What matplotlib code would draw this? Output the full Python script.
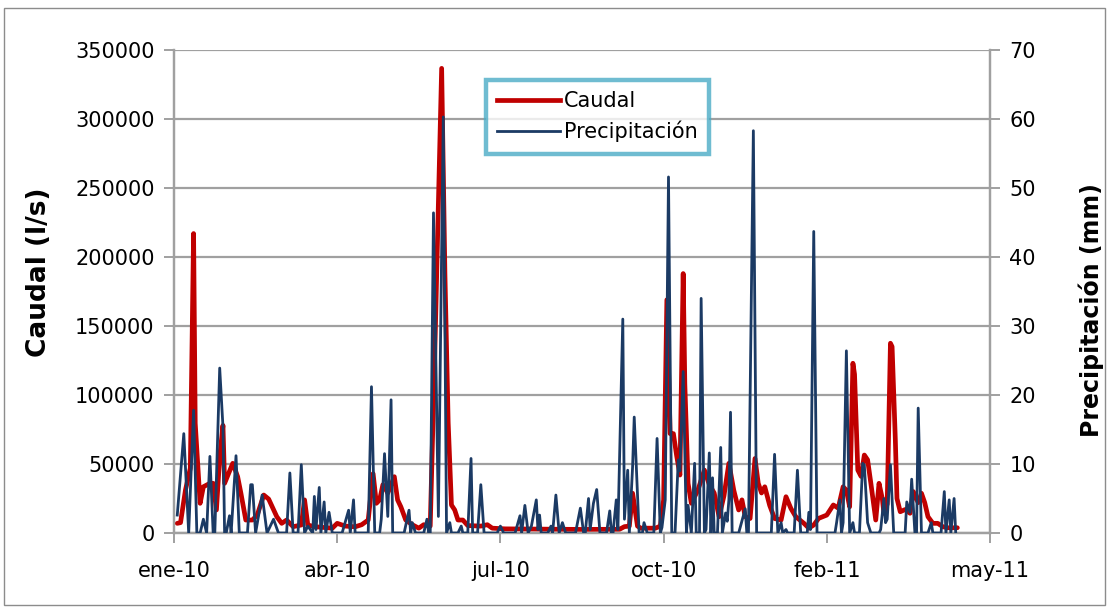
import numpy as np
import matplotlib
matplotlib.use("Agg")
import matplotlib.pyplot as plt
import matplotlib.dates as mdates
from matplotlib.ticker import FuncFormatter, MultipleLocator, FixedLocator
from matplotlib.lines import Line2D
from matplotlib.patches import Rectangle

# Daily record starting 1 Jan 2010 (day offsets)
inicio = np.datetime64("2010-01-01")

dia_caudal = [2, 4, 7, 10, 12, 13, 16, 18, 22, 24, 26, 28, 30, 31, 36, 39, 41, 44, 48, 51,
              55, 58, 63, 66, 69, 73, 78, 80, 82, 86, 92, 97, 100, 105, 111, 115, 119, 122,
              124, 126, 128, 131, 135, 137, 139, 142, 146, 150, 153, 157, 160, 164, 166, 168,
              170, 172, 174, 177, 180, 188, 192, 195, 203, 224, 249, 273, 276, 279, 281, 284,
              286, 295, 298, 300, 302, 304, 306, 308, 310, 312, 313, 315, 317, 321, 325, 328,
              331, 334, 337, 340, 343, 346, 348, 350, 353, 356, 358, 360, 362, 365, 368, 372,
              375, 378, 381, 386, 389, 392, 395, 400, 404, 407, 410, 412, 414, 416, 417, 419,
              421, 423, 425, 427, 430, 432, 434, 435, 437, 439, 440, 442, 443, 445, 448, 451,
              453, 456, 458, 460, 462, 465, 468, 471, 474, 480]
caudal = [7000, 7500, 31000, 47000, 217000, 79500, 21500, 33500, 36000, 36000, 16700, 55000,
          78000, 36000, 50500, 40800, 28800, 9400, 9400, 13000, 27500, 24600, 11800, 7000,
          9400, 4600, 5800, 24000, 5800, 4600, 4000, 3500, 7000, 5000, 4500, 6000, 9400, 43000,
          21500, 24000, 35000, 29000, 40800, 24000, 19000, 9400, 6000, 3500, 6000, 5000,
          140000, 336700, 188000, 80000, 20300, 16700, 9400, 9400, 5400, 5000, 6000, 3500,
          3000, 2800, 2600, 2700, 4600, 5000, 28800, 5000, 3500, 3500, 5000, 24000, 169000,
          72000, 72000, 56000, 42000, 188000, 108000, 36000, 21500, 31000, 45600, 35000, 29000,
          11800, 27000, 50500, 31000, 16700, 24000, 11800, 10500, 54000, 36000, 29000, 33500,
          20000, 10500, 9400, 26300, 17800, 11800, 7000, 3500, 5800, 10600, 13000, 20300,
          18000, 33500, 31000, 19000, 123000, 115000, 45600, 41000, 56500, 53000, 36000, 9400,
          36000, 25000, 14300, 21000, 137500, 135000, 67400, 25000, 15400, 17000, 14300, 30000,
          22000, 28800, 22000, 11800, 7000, 7000, 4600, 3800, 3800]

dia_precip = [2, 6, 9, 12, 14, 16, 18, 20, 22, 24, 25, 28, 30, 31, 32, 34, 35, 38, 40, 45,
              47, 48, 50, 54, 57, 61, 64, 69, 71, 73, 76, 78, 80, 82, 85, 86, 87, 89, 90, 92,
              93, 95, 97, 103, 107, 108, 110, 111, 119, 121, 123, 126, 127, 129, 131, 133, 134,
              141, 144, 145, 146, 148, 153, 155, 156, 157, 159, 162, 165, 167, 169, 170, 174,
              176, 177, 180, 182, 183, 186, 188, 190, 198, 200, 202, 209, 212, 213, 215, 217,
              219, 222, 223, 224, 225, 229, 231, 232, 234, 236, 238, 240, 246, 249, 251, 252,
              254, 255, 257, 259, 261, 265, 267, 268, 269, 271, 272, 275, 276, 278, 279, 281,
              282, 285, 287, 288, 290, 294, 296, 298, 299, 301, 303, 305, 307, 309, 310, 312,
              314, 315, 317, 319, 320, 322, 323, 325, 326, 328, 329, 330, 331, 333, 335, 336,
              338, 339, 340, 341, 342, 346, 350, 351, 352, 355, 357, 366, 368, 370, 372, 373,
              375, 376, 380, 382, 384, 388, 389, 390, 392, 394, 405, 406, 408, 409, 410, 412,
              414, 416, 417, 420, 422, 423, 425, 427, 432, 433, 435, 436, 437, 439, 441, 448,
              449, 451, 452, 454, 455, 456, 458, 462, 464, 465, 470, 472, 473, 475, 476, 478,
              479]
precip = [2.6, 14.4, 0, 17.8, 0, 0, 2.0, 0, 11.1, 0, 0, 23.9, 15.4, 0, 0, 2.5, 0, 11.2, 0, 0,
          7.0, 7.0, 0, 5.5, 0, 2.0, 0, 0, 8.7, 0, 0, 9.9, 0, 1.0, 0, 5.3, 0.5, 6.6, 0, 4.5,
          0, 3.0, 0, 0, 3.3, 0, 4.8, 0, 0, 21.2, 0, 0, 2.0, 11.5, 2.4, 19.3, 0,
          0, 3.3, 0, 1.5, 0, 0, 2.0, 0, 0, 46.4, 2.4, 60.3, 0, 1.5, 0, 0,
          1.0, 0, 0, 10.8, 0, 0, 7.0, 0, 0, 1.0, 0, 0, 2.5, 0, 4.0, 0,
          1.0, 4.8, 0.5, 2.6, 0, 0, 1.0, 0, 5.5, 0, 1.5, 0, 0, 3.6, 0, 0,
          5.0, 0.5, 4.3, 6.3, 0, 0, 3.2, 0, 0, 4.8, 0.5, 31.0, 2.0, 9.1, 0, 9.6,
          16.8, 0, 0, 1.5, 0, 0, 13.7, 0, 0.8, 4.8, 51.6, 0, 0, 10.6, 9.0, 23.4,
          0, 4.0, 0, 10.1, 0, 0, 34.0, 0, 0.5, 11.6, 0, 8.0, 0, 0, 12.4, 0,
          2.9, 1.7, 4.8, 17.5, 0, 0, 3.5, 0, 0, 58.3, 0, 0, 11.4, 0, 1.5, 0,
          0.5, 0, 0, 9.1, 0, 0, 3.0, 0.5, 43.7, 0, 0, 1.5, 4.8, 0, 1.5, 26.4,
          0, 1.5, 0, 0, 10.1, 9.8, 1.5, 0, 0, 0.5, 5.0, 1.5, 2.0, 9.9, 0, 0,
          4.5, 3.0, 7.8, 0, 0, 18.1, 0, 0, 1.5, 0, 0, 6.0, 0, 4.8, 0, 5.0,
          0]

meses = ["ene", "feb", "mar", "abr", "may", "jun", "jul", "ago", "sep", "oct", "nov", "dic"]

fecha_caudal = inicio + np.array(dia_caudal).astype("timedelta64[D]")
fecha_precip = inicio + np.array(dia_precip).astype("timedelta64[D]")

ROJO = "#C00000"
AZUL = "#1B3A64"
GRIS = "#A0A0A0"

plt.rcParams["font.family"] = ["DejaVu Sans"]

fig = plt.figure(figsize=(11.09, 6.09), dpi=100)
ax = fig.add_axes([174 / 1109, 76 / 609, 816 / 1109, 483 / 609])
ax2 = ax.twinx()

# chart area border
fig.patches.append(Rectangle((4 / 1109, 4 / 609), 1101 / 1109, 597 / 609,
                             transform=fig.transFigure, fill=False,
                             edgecolor="#8C8C8C", linewidth=1.0))

ax.plot(fecha_caudal, caudal, color=ROJO, linewidth=3.4, solid_joinstyle="round",
        solid_capstyle="round", zorder=3)
ax2.plot(fecha_precip, precip, color=AZUL, linewidth=2.0, solid_joinstyle="round", zorder=3)

# date axis: one major tick every 100 days from the start of the record
marcas = inicio + np.arange(0, 501, 100).astype("timedelta64[D]")
marcas_num = mdates.date2num(marcas)
ax.set_xlim(marcas_num[0], marcas_num[-1])
ax.xaxis.set_major_locator(FixedLocator(marcas_num))
ax.xaxis.set_major_formatter(FuncFormatter(
    lambda v, p: "{}-{}".format(meses[mdates.num2date(v).month - 1],
                                mdates.num2date(v).strftime("%y"))))

ax.set_ylim(0, 350000)
ax.yaxis.set_major_locator(MultipleLocator(50000))
ax2.set_ylim(0, 70)
ax2.yaxis.set_major_locator(MultipleLocator(10))

ax.grid(axis="y", color=GRIS, linewidth=1.6, zorder=0)
ax.set_axisbelow(True)

for a in (ax, ax2):
    a.spines["top"].set_visible(False)
    for s in ("left", "right", "bottom"):
        a.spines[s].set_color(GRIS)
        a.spines[s].set_linewidth(1.6)
    a.tick_params(axis="both", colors=GRIS, labelcolor="black", labelsize=15,
                  length=7, width=1.4, direction="out")
ax.tick_params(axis="x", pad=13)
ax.tick_params(axis="y", pad=7)
ax2.tick_params(axis="y", pad=7)

ax.set_ylabel("Caudal (l/s)", fontsize=19, fontweight="bold")
ax.yaxis.set_label_coords(-0.15, 0.54)
ax2.set_ylabel("Precipitación (mm)", fontsize=17, fontweight="bold", rotation=90)
ax2.yaxis.set_label_coords(1.108, 0.462)

handles = [Line2D([], [], color=ROJO, linewidth=3.4),
           Line2D([], [], color=AZUL, linewidth=2.0)]
leg = ax2.legend(handles, ["Caudal", "Precipitación"], loc="upper left",
                 bbox_to_anchor=((486 - 174) / 816, (533 - 80) / 483),
                 fontsize=15, frameon=True, fancybox=False, handlelength=3.0,
                 handletextpad=0.2, borderpad=0.55, labelspacing=0.45, borderaxespad=0)
leg.get_frame().set_edgecolor("#4BACC6")
leg.get_frame().set_linewidth(3.2)

fig.savefig("out.png", dpi=100)
